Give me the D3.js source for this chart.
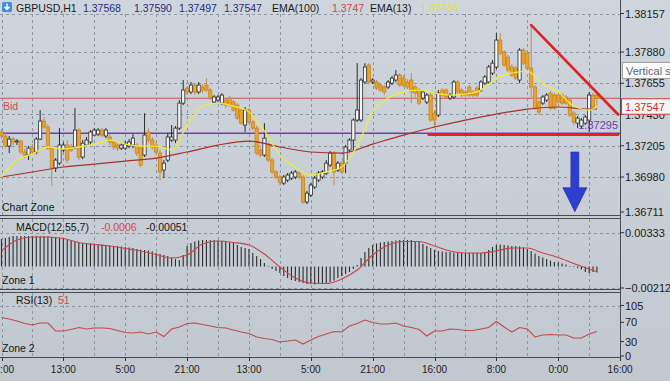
<!DOCTYPE html>
<html>
<head>
<meta charset="utf-8">
<title>GBPUSD,H1</title>
<script src="https://cdn.jsdelivr.net/npm/d3@7/dist/d3.min.js"></script>
<style>
  html, body { margin: 0; padding: 0; background: #c7cdd4; overflow: hidden; }
  svg { display: block; font-family: "Liberation Sans", Arial, sans-serif; }
</style>
</head>
<body>
<svg id="chart"></svg>
<script>
"use strict";

// ── Data ─────────────────────────────────────────────────────────────────────
const symbol = "GBPUSD,H1";

const opens = [
  1.37304,1.37275,1.37203,1.37253,1.37232,1.37239,1.37160,1.37138,1.37188,1.37160,
  1.37253,1.37383,1.37340,1.37188,1.37044,1.37080,1.37174,1.37210,1.37196,1.37196,
  1.37318,1.37124,1.37210,1.37232,1.37282,1.37289,1.37318,1.37275,1.37268,1.37232,
  1.37210,1.37188,1.37188,1.37203,1.37210,1.37210,1.37188,1.37138,1.37304,1.37246,
  1.37210,1.37152,1.37030,1.37102,1.37246,1.37246,1.37332,1.37512,1.37620,1.37592,
  1.37642,1.37592,1.37628,1.37642,1.37606,1.37520,1.37534,1.37512,1.37534,1.37548,
  1.37520,1.37498,1.37462,1.37354,1.37462,1.37376,1.37332,1.37174,1.37138,1.37210,
  1.37102,1.37016,1.36980,1.36936,1.36958,1.36972,1.36980,1.37008,1.36980,1.36800,
  1.36850,1.36908,1.36958,1.36980,1.37008,1.37066,1.37152,1.37030,1.37080,1.37080,
  1.37174,1.37246,1.37390,1.37390,1.37664,1.37786,1.37664,1.37664,1.37642,1.37628,
  1.37628,1.37656,1.37678,1.37714,1.37692,1.37664,1.37678,1.37628,1.37606,1.37548,
  1.37520,1.37570,1.37440,1.37426,1.37606,1.37606,1.37548,1.37556,1.37664,1.37606,
  1.37592,1.37628,1.37592,1.37620,1.37606,1.37656,1.37664,1.37728,1.37772,1.37966,
  1.37880,1.37844,1.37772,1.37764,1.37678,1.37894,1.37872,1.37764,1.37628,1.37520,
  1.37512,1.37534,1.37584,1.37570,1.37570,1.37570,1.37556,1.37534,1.37440,1.37368,
  1.37347,1.37368,1.37390,1.37570,1.37568
];

const highs = [
  1.37325,1.37296,1.37275,1.37268,1.37253,1.37246,1.37181,1.37203,1.37217,1.37268,
  1.37462,1.37412,1.37361,1.37203,1.37116,1.37332,1.37232,1.37246,1.37217,1.37476,
  1.37332,1.37246,1.37268,1.37318,1.37332,1.37332,1.37332,1.37332,1.37289,1.37246,
  1.37224,1.37224,1.37239,1.37253,1.37289,1.37224,1.37203,1.37440,1.37332,1.37268,
  1.37232,1.37174,1.37102,1.37296,1.37354,1.37347,1.37534,1.37678,1.37635,1.37664,
  1.37656,1.37664,1.37649,1.37692,1.37620,1.37570,1.37570,1.37584,1.37548,1.37563,
  1.37534,1.37512,1.37476,1.37484,1.37476,1.37390,1.37347,1.37188,1.37368,1.37224,
  1.37116,1.37030,1.36994,1.36994,1.37008,1.37023,1.37030,1.37023,1.36994,1.36879,
  1.36936,1.36987,1.37023,1.37030,1.37102,1.37167,1.37167,1.37095,1.37095,1.37210,
  1.37260,1.37404,1.37800,1.37692,1.37800,1.37800,1.37692,1.37678,1.37656,1.37642,
  1.37678,1.37707,1.37750,1.37728,1.37714,1.37685,1.37728,1.37642,1.37620,1.37606,
  1.37584,1.37592,1.37462,1.37606,1.37620,1.37620,1.37584,1.37678,1.37678,1.37620,
  1.37606,1.37642,1.37606,1.37635,1.37678,1.37714,1.37786,1.37822,1.38016,1.38016,
  1.37894,1.37858,1.37793,1.37779,1.37908,1.37908,1.37894,1.38074,1.37642,1.37534,
  1.37570,1.37584,1.37599,1.37584,1.37584,1.37584,1.37570,1.37548,1.37455,1.37419,
  1.37404,1.37426,1.37592,1.37584,1.37590
];

const lows = [
  1.37253,1.37188,1.37152,1.37210,1.37210,1.37145,1.37116,1.37102,1.37138,1.37145,
  1.37246,1.37325,1.37174,1.36915,1.37016,1.37066,1.37160,1.37080,1.37160,1.37181,
  1.37102,1.37109,1.37203,1.37210,1.37275,1.37275,1.37268,1.37260,1.37210,1.37174,
  1.37167,1.37174,1.37174,1.37188,1.37188,1.37131,1.37052,1.37124,1.37224,1.37174,
  1.37138,1.36958,1.36972,1.37088,1.37232,1.37224,1.37318,1.37498,1.37570,1.37577,
  1.37570,1.37577,1.37584,1.37592,1.37534,1.37505,1.37520,1.37498,1.37476,1.37484,
  1.37448,1.37390,1.37354,1.37304,1.37361,1.37318,1.37138,1.37124,1.37124,1.37088,
  1.37001,1.36965,1.36922,1.36922,1.36944,1.36958,1.36965,1.36965,1.36785,1.36785,
  1.36836,1.36893,1.36944,1.36965,1.36994,1.37052,1.36922,1.37016,1.37001,1.37008,
  1.37160,1.37174,1.37376,1.37376,1.37649,1.37649,1.37649,1.37606,1.37592,1.37570,
  1.37613,1.37642,1.37664,1.37628,1.37628,1.37613,1.37512,1.37556,1.37498,1.37534,
  1.37505,1.37376,1.37332,1.37412,1.37556,1.37541,1.37534,1.37541,1.37577,1.37556,
  1.37556,1.37556,1.37556,1.37556,1.37592,1.37642,1.37649,1.37714,1.37757,1.37858,
  1.37772,1.37736,1.37700,1.37678,1.37656,1.37786,1.37750,1.37556,1.37462,1.37426,
  1.37498,1.37520,1.37462,1.37462,1.37505,1.37498,1.37498,1.37412,1.37354,1.37332,
  1.37332,1.37354,1.37304,1.37469,1.37497
];

const closes = [
  1.37275,1.37203,1.37253,1.37232,1.37239,1.37160,1.37138,1.37188,1.37160,1.37253,
  1.37383,1.37340,1.37188,1.37044,1.37102,1.37210,1.37210,1.37102,1.37174,1.37318,
  1.37124,1.37224,1.37246,1.37304,1.37318,1.37318,1.37282,1.37318,1.37232,1.37196,
  1.37188,1.37210,1.37217,1.37232,1.37260,1.37152,1.37066,1.37282,1.37246,1.37196,
  1.37160,1.37016,1.37080,1.37268,1.37268,1.37332,1.37512,1.37606,1.37592,1.37642,
  1.37592,1.37642,1.37606,1.37606,1.37556,1.37556,1.37556,1.37570,1.37498,1.37498,
  1.37462,1.37404,1.37368,1.37462,1.37376,1.37332,1.37152,1.37138,1.37260,1.37102,
  1.37016,1.36980,1.36944,1.36980,1.36994,1.37008,1.37016,1.36980,1.36800,1.36864,
  1.36922,1.36972,1.37008,1.37016,1.37080,1.37152,1.37016,1.37080,1.37016,1.37196,
  1.37246,1.37390,1.37462,1.37678,1.37772,1.37664,1.37678,1.37620,1.37606,1.37592,
  1.37664,1.37692,1.37714,1.37642,1.37642,1.37628,1.37592,1.37584,1.37512,1.37592,
  1.37570,1.37390,1.37390,1.37584,1.37570,1.37556,1.37570,1.37664,1.37592,1.37570,
  1.37570,1.37570,1.37570,1.37570,1.37664,1.37700,1.37772,1.37800,1.37966,1.37872,
  1.37786,1.37750,1.37714,1.37692,1.37894,1.37800,1.37764,1.37628,1.37476,1.37448,
  1.37556,1.37570,1.37476,1.37476,1.37520,1.37512,1.37512,1.37426,1.37376,1.37404,
  1.37390,1.37412,1.37570,1.37484,1.37547
];

// moving averages, read every 4th / 8th bar plus the last bar
const ema13 = [
  1.36980,1.37102,1.37145,1.37196,1.37181,1.37196,1.37217,1.37246,1.37217,1.37203,
  1.37203,1.37174,1.37354,1.37491,1.37512,1.37491,1.37448,1.37311,1.37138,1.37052,
  1.36994,1.37016,1.37052,1.37203,1.37448,1.37548,1.37592,1.37606,1.37584,1.37570,
  1.37577,1.37606,1.37692,1.37728,1.37743,1.37649,1.37592,1.37491,1.37462,1.37484
];
const ema100 = [
  1.36980,1.37016,1.37052,1.37073,1.37095,1.37116,1.37160,1.37210,1.37239,1.37196,
  1.37160,1.37152,1.37217,1.37282,1.37340,1.37390,1.37433,1.37469,1.37484,1.37469,
  1.37470
];

// MACD(12,55,7): histogram per bar, signal every 4th bar plus the last bar
const macdMain = [
  0.00271,0.00281,0.00291,0.00301,0.00301,0.00301,0.00301,0.00301,0.00301,0.00301,
  0.00301,0.00301,0.00296,0.00291,0.00286,0.00281,0.00271,0.00261,0.00251,0.00242,
  0.00237,0.00232,0.00230,0.00227,0.00222,0.00222,0.00217,0.00212,0.00207,0.00202,
  0.00202,0.00197,0.00192,0.00187,0.00182,0.00173,0.00168,0.00163,0.00158,0.00148,
  0.00133,0.00123,0.00113,0.00104,0.00089,0.00074,0.00064,0.00113,0.00202,0.00232,
  0.00247,0.00256,0.00261,0.00261,0.00261,0.00261,0.00256,0.00251,0.00242,0.00237,
  0.00232,0.00212,0.00192,0.00182,0.00173,0.00133,0.00104,0.00074,0.00035,0.00005,
  -0.00025,-0.00044,-0.00064,-0.00094,-0.00113,-0.00133,-0.00143,-0.00153,-0.00163,-0.00173,
  -0.00173,-0.00177,-0.00173,-0.00168,-0.00163,-0.00153,-0.00138,-0.00113,-0.00094,-0.00074,
  -0.00054,-0.00025,0.00015,0.00084,0.00143,0.00182,0.00212,0.00227,0.00237,0.00242,
  0.00247,0.00251,0.00256,0.00261,0.00261,0.00261,0.00261,0.00251,0.00242,0.00222,
  0.00202,0.00182,0.00163,0.00153,0.00148,0.00143,0.00143,0.00138,0.00138,0.00133,
  0.00133,0.00133,0.00133,0.00133,0.00133,0.00143,0.00163,0.00192,0.00212,0.00217,
  0.00212,0.00207,0.00202,0.00202,0.00197,0.00187,0.00173,0.00153,0.00128,0.00104,
  0.00089,0.00074,0.00059,0.00044,0.00039,0.00030,0.00020,0.00005,-0.00005,-0.00015,
  -0.00030,-0.00054,-0.00064,-0.00054,-0.0006
];
const macdSignal = [
  0.00153,0.00261,0.00291,0.00291,0.00276,0.00237,0.00217,0.00202,0.00177,0.00153,
  0.00118,0.00084,0.00113,0.00222,0.00251,0.00237,0.00212,0.00123,-0.00005,-0.00113,
  -0.00163,-0.00168,-0.00123,-0.00035,0.00113,0.00212,0.00247,0.00247,0.00202,0.00153,
  0.00133,0.00133,0.00153,0.00182,0.00182,0.00133,0.00089,0.00030,-0.00025,-0.00051
];

// RSI(13), read every 2nd bar plus the last bar
const rsi13 = [
  80.0,76.9,72.8,67.6,64.4,68.6,68.6,52.0,52.0,55.1,
  59.3,56.1,58.2,58.2,57.2,53.0,48.9,47.8,49.9,45.7,
  49.9,40.5,56.1,60.3,67.6,68.6,65.5,62.4,59.3,58.2,
  54.1,49.9,46.8,39.5,36.4,34.3,29.1,31.2,33.3,24.9,
  33.3,40.5,45.7,50.9,49.9,62.4,67.6,74.8,69.6,66.5,
  66.5,68.6,62.4,59.3,55.1,41.6,52.0,52.0,56.1,55.1,
  53.0,53.0,56.1,59.3,71.7,60.3,49.9,59.3,56.1,39.5,
  43.7,44.7,43.7,43.7,37.4,37.4,45.7,51
];

const timeLabels = ["21:00","13:00","5:00","21:00","13:00","5:00","21:00","16:00","8:00","0:00","16:00"]; // every 16 bars
const priceTicks = [1.38157, 1.37880, 1.37655, 1.37430, 1.37205, 1.36980, 1.36711];
const macdTicks  = [0.00333, -0.00212];
const rsiTicks   = [105, 70, 30, 0];

const levelPrice = 1.37295;
const trendDown  = [{ bar: 137, price: 1.38074 }, { bar: 159.5, price: 1.37430 }];
const trendFlat  = [{ bar: 110.5, price: 1.37285 }, { bar: 159.5, price: 1.37285 }];
const arrowMark  = { bar: 148.3, from: 1.37160, to: 1.36730 };

// ── Setup ────────────────────────────────────────────────────────────────────
const W = 670, H = 381, axisX = 620;
const last = closes.length - 1;
const fmt5 = d3.format(".5f");

const svg = d3.select("#chart").attr("width", W).attr("height", H).attr("viewBox", `0 0 ${W} ${H}`);

const defs = svg.append("defs");
const bg = defs.append("linearGradient").attr("id", "bg").attr("x1", 0).attr("y1", 0).attr("x2", 0).attr("y2", 1);
bg.append("stop").attr("offset", "0%").attr("stop-color", "#cfd5dc");
bg.append("stop").attr("offset", "100%").attr("stop-color", "#c1c8d0");
defs.append("clipPath").attr("id", "clipMain").append("rect").attr("x", 0).attr("y", 0).attr("width", axisX).attr("height", 215);
defs.append("clipPath").attr("id", "clipMacd").append("rect").attr("x", 0).attr("y", 219).attr("width", axisX).attr("height", 70);
defs.append("clipPath").attr("id", "clipRsi").append("rect").attr("x", 0).attr("y", 293).attr("width", axisX).attr("height", 64);

svg.append("rect").attr("width", W).attr("height", H).attr("fill", "url(#bg)");

// Scales
const x  = d3.scaleLinear().domain([0, 160]).range([1.5, 620.1]);
const yP = d3.scaleLinear().domain([1.36980, 1.37880]).range([177, 52]);
const yM = d3.scaleLinear().domain([-0.00212, 0.00333]).range([288, 232.7]);
const yR = d3.scaleLinear().domain([0, 105]).range([356, 305.5]);

const sampled = (vals, step) => {
  const idx = d3.range(0, last, step).concat(last);
  return vals.map((v, k) => [idx[k], v]);
};

// ── Grid ─────────────────────────────────────────────────────────────────────
const gridColor = "#8c96a2";
const grid = svg.append("g").attr("stroke", gridColor).attr("stroke-dasharray", "3,3").attr("stroke-width", 1);

[[14, 215], [219, 289], [293, 357]].forEach(([t, b]) => {
  grid.append("g").selectAll("line").data(d3.range(0, last, 8)).join("line")
    .attr("x1", d => Math.round(x(d)) + 0.5).attr("x2", d => Math.round(x(d)) + 0.5)
    .attr("y1", t).attr("y2", b);
});
grid.append("g").selectAll("line").data(priceTicks.slice(0, -1)).join("line")
  .attr("x1", 0).attr("x2", axisX).attr("y1", d => Math.round(yP(d)) + 0.5).attr("y2", d => Math.round(yP(d)) + 0.5);
grid.append("g").selectAll("line").data(macdTicks).join("line")
  .attr("x1", 0).attr("x2", axisX).attr("y1", d => Math.round(yM(d)) + 0.5).attr("y2", d => Math.round(yM(d)) + 0.5);
grid.append("line").attr("x1", 0).attr("x2", axisX)
  .attr("y1", Math.round(yR(rsiTicks[0])) + 0.5).attr("y2", Math.round(yR(rsiTicks[0])) + 0.5);

// ── Main panel ───────────────────────────────────────────────────────────────
const main = svg.append("g").attr("clip-path", "url(#clipMain)");

// bid and level lines
main.append("line").attr("x1", 0).attr("x2", axisX)
  .attr("y1", yP(closes[last])).attr("y2", yP(closes[last]))
  .attr("stroke", "#c9545a").attr("stroke-width", 1);
main.append("line").attr("x1", 0).attr("x2", axisX)
  .attr("y1", yP(levelPrice)).attr("y2", yP(levelPrice))
  .attr("stroke", "#7a3aa8").attr("stroke-width", 1.5);
main.append("text").attr("x", 618).attr("y", yP(levelPrice) - 8)
  .attr("text-anchor", "end").attr("dominant-baseline", "central")
  .attr("font-size", 11).attr("fill", "#6a3cb4").text(fmt5(levelPrice));

// candles
const bars = closes.map((c, i) => ({ i, o: opens[i], h: highs[i], l: lows[i], c, up: c >= opens[i] }));
const candles = main.append("g");
candles.selectAll("line").data(bars).join("line")
  .attr("x1", d => x(d.i)).attr("x2", d => x(d.i))
  .attr("y1", d => yP(d.h)).attr("y2", d => yP(d.l))
  .attr("stroke", d => d.up ? "#2a2a2a" : "#c28c48").attr("stroke-width", 1);
candles.selectAll("rect").data(bars).join("rect")
  .attr("x", d => x(d.i) - 1.6).attr("width", 3.2)
  .attr("y", d => yP(Math.max(d.o, d.c)))
  .attr("height", d => Math.max(1, Math.abs(yP(d.o) - yP(d.c))))
  .attr("fill", d => d.up ? "#f3f5f6" : "#eba22e")
  .attr("stroke", d => d.up ? "#2a2a2a" : "#c8841e").attr("stroke-width", 0.8);

// moving averages
const priceLine = d3.line().x(d => x(d[0])).y(d => yP(d[1])).curve(d3.curveMonotoneX);
main.append("path").datum(sampled(ema100, 8)).attr("d", priceLine)
  .attr("fill", "none").attr("stroke", "#a8302c").attr("stroke-width", 1.2);
main.append("path").datum(sampled(ema13, 4)).attr("d", priceLine)
  .attr("fill", "none").attr("stroke", "#eeec3a").attr("stroke-width", 1.3);

// trend lines
const trend = d3.line().x(d => x(d.bar)).y(d => yP(d.price));
[trendDown, trendFlat].forEach(t => {
  main.append("path").datum(t).attr("d", trend)
    .attr("fill", "none").attr("stroke", "#e2221f").attr("stroke-width", 2.6).attr("stroke-linecap", "round");
});

// arrow
{
  const ax = x(arrowMark.bar), top = yP(arrowMark.from), bot = yP(arrowMark.to);
  const neck = bot - 24;
  const p = d3.path();
  p.moveTo(ax - 4, top); p.lineTo(ax + 4, top); p.lineTo(ax + 4, neck); p.lineTo(ax + 12, neck);
  p.lineTo(ax, bot); p.lineTo(ax - 12, neck); p.lineTo(ax - 4, neck); p.closePath();
  main.append("path").attr("d", p.toString()).attr("fill", "#2e3fcf").attr("stroke", "#1d2a9a").attr("stroke-width", 0.6);
}

// ── MACD panel ───────────────────────────────────────────────────────────────
const macd = svg.append("g").attr("clip-path", "url(#clipMacd)");
macd.selectAll("line").data(macdMain).join("line")
  .attr("x1", (d, i) => x(i)).attr("x2", (d, i) => x(i))
  .attr("y1", yM(0)).attr("y2", d => yM(d))
  .attr("stroke", "#2b2b2b").attr("stroke-width", 1.1);
macd.append("path").datum(sampled(macdSignal, 4))
  .attr("d", d3.line().x(d => x(d[0])).y(d => yM(d[1])).curve(d3.curveMonotoneX))
  .attr("fill", "none").attr("stroke", "#c8444a").attr("stroke-width", 1.1);

// ── RSI panel ────────────────────────────────────────────────────────────────
const rsi = svg.append("g").attr("clip-path", "url(#clipRsi)");
rsi.append("path").datum(sampled(rsi13, 2))
  .attr("d", d3.line().x(d => x(d[0])).y(d => yR(d[1])))
  .attr("fill", "none").attr("stroke", "#c24a4e").attr("stroke-width", 1.1);

// ── Frames ───────────────────────────────────────────────────────────────────
const frame = svg.append("g").attr("stroke", "#474c52").attr("stroke-width", 1);
[215.5, 218.5, 289.5, 292.5, 357.5].forEach(y => frame.append("line").attr("x1", 0).attr("x2", axisX + 1).attr("y1", y).attr("y2", y));
frame.append("line").attr("x1", axisX + 0.5).attr("x2", axisX + 0.5).attr("y1", 0).attr("y2", 358);

// ── Axes ─────────────────────────────────────────────────────────────────────
const axisText = "#1c1c1c";
const right = svg.append("g").attr("font-size", 11).attr("fill", axisText);
function rightTicks(ticks, scale, f, clampTo) {
  ticks.forEach(t => {
    const y = Math.min(scale(t), clampTo);
    right.append("line").attr("x1", axisX).attr("x2", axisX + 4).attr("y1", y).attr("y2", y).attr("stroke", "#333");
    right.append("text").attr("x", axisX + 5).attr("y", y).attr("dominant-baseline", "central").text(f(t));
  });
}
rightTicks(priceTicks, yP, fmt5, 212);
rightTicks(macdTicks, yM, fmt5, 999);
rightTicks(rsiTicks, yR, String, 999);

// bid price box
{
  const by = yP(closes[last]);
  right.append("rect").attr("x", axisX + 1.5).attr("y", by + 0.5).attr("width", 50).attr("height", 15.5)
    .attr("fill", "#f6f6f6").attr("stroke", "#d23a3a").attr("stroke-width", 1);
  right.append("text").attr("x", axisX + 5).attr("y", by + 8.5).attr("dominant-baseline", "central")
    .attr("fill", "#d42a2a").text(fmt5(closes[last]));
}

// object tooltip on the price scale
svg.append("rect").attr("x", 622.5).attr("y", 62.5).attr("width", 50).attr("height", 16)
  .attr("fill", "#fbfbfb").attr("stroke", "#a0a0a0");
svg.append("text").attr("x", 626).attr("y", 71).attr("dominant-baseline", "central")
  .attr("font-size", 11).attr("fill", "#5e6670").text("Vertical s");

// time axis
const bottom = svg.append("g").attr("font-size", 10).attr("fill", axisText);
timeLabels.forEach((lab, k) => {
  const tx = x(k * 16);
  bottom.append("line").attr("x1", Math.round(tx) + 0.5).attr("x2", Math.round(tx) + 0.5)
    .attr("y1", 357).attr("y2", 361).attr("stroke", "#333");
  bottom.append("text").attr("x", tx).attr("y", 369).attr("text-anchor", "middle")
    .attr("dominant-baseline", "central").text(lab);
});

// ── Labels ───────────────────────────────────────────────────────────────────
const labels = svg.append("g").attr("font-size", 10.5).attr("dominant-baseline", "central");

// symbol icon
svg.append("rect").attr("x", 2).attr("y", 2).attr("width", 10).attr("height", 10).attr("rx", 1.5).attr("fill", "#3d8fe0");
svg.append("path").attr("d", "M7,3.5 L7,9 M4.5,6.8 L7,9.5 L9.5,6.8").attr("fill", "none").attr("stroke", "#fff").attr("stroke-width", 1.4);

const header = [
  { x: 16,  text: symbol, fill: "#1b1b1b" },
  { x: 83,  text: fmt5(opens[last]),  fill: "#1f2b86" },
  { x: 134, text: fmt5(highs[last]),  fill: "#1f2b86" },
  { x: 179, text: fmt5(lows[last]),   fill: "#1f2b86" },
  { x: 224, text: fmt5(closes[last]), fill: "#1f2b86" },
  { x: 272, text: "EMA(100)", fill: "#1b1b1b" },
  { x: 332, text: d3.format(".4f")(ema100[ema100.length - 1]), fill: "#cf4646" },
  { x: 370, text: "EMA(13)", fill: "#1b1b1b" },
  { x: 421, text: fmt5(ema13[ema13.length - 1]), fill: "#e4e232" }
];
labels.selectAll("text.hdr").data(header).join("text").attr("class", "hdr")
  .attr("x", d => d.x).attr("y", 7.5).attr("fill", d => d.fill).text(d => d.text);

const panelText = [
  { x: 3,   y: 106, text: "Bid", fill: "#cf4b50" },
  { x: 2,   y: 207, text: "Chart Zone", fill: "#151515" },
  { x: 16,  y: 226.5, text: "MACD(12,55,7)", fill: "#151515" },
  { x: 101, y: 226.5, text: String(macdMain[last]), fill: "#d2474c" },
  { x: 146, y: 226.5, text: String(macdSignal[macdSignal.length - 1]), fill: "#151515" },
  { x: 2,   y: 280, text: "Zone 1", fill: "#151515" },
  { x: 16,  y: 300, text: "RSI(13)", fill: "#151515" },
  { x: 58,  y: 300, text: String(rsi13[rsi13.length - 1]), fill: "#d2474c" },
  { x: 2,   y: 348, text: "Zone 2", fill: "#151515" }
];
labels.selectAll("text.pnl").data(panelText).join("text").attr("class", "pnl")
  .attr("x", d => d.x).attr("y", d => d.y).attr("fill", d => d.fill).text(d => d.text);
</script>
</body>
</html>
